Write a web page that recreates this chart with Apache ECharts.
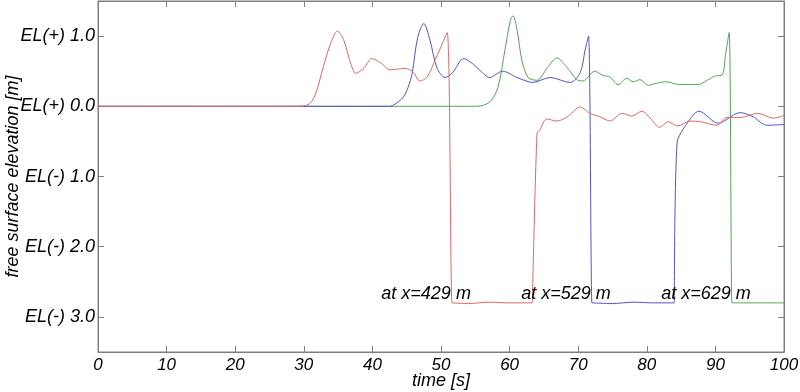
<!DOCTYPE html>
<html>
<head>
<meta charset="utf-8">
<script src="https://cdn.jsdelivr.net/npm/echarts@6/dist/echarts.min.js"></script>
<style>html,body{margin:0;padding:0;background:#fff}#c{width:800px;height:392px}</style>
</head>
<body>
<div id="c"></div>
<script>
// ---- data ----
const xTicks = [0, 10, 20, 30, 40, 50, 60, 70, 80, 90, 100];
const yTickValues = [-3, -2, -1, 0, 1];
const yTickLabels = ['EL(-) 3.0', 'EL(-) 2.0', 'EL(-) 1.0', 'EL(+) 0.0', 'EL(+) 1.0'];

// x = 429 m (red)
const t429 = [0, 29.5, 30.9, 31.8, 32.8, 34.0, 34.9, 35.8, 36.8, 37.6, 38.8, 39.9, 41.2, 42.6, 44.8, 46.0, 46.9, 48.0, 49.1, 50.0, 50.9, 51.6, 51.7, 54, 57, 60, 63.3, 63.4, 64.0, 64.4, 65.4, 66.9, 68.4, 70.3, 71.7, 73.2, 74.6, 76.4, 77.8, 79.3, 80.5, 81.9, 83.1, 84.5, 86.3, 87.8, 90.2, 91.7, 93.6, 96.2, 98.4, 100];
const v429 = [0, 0, 0.04, 0.2, 0.55, 0.92, 1.07, 0.95, 0.62, 0.47, 0.55, 0.68, 0.62, 0.52, 0.54, 0.48, 0.36, 0.42, 0.65, 0.85, 1.05, -2.8, -2.8, -2.81, -2.79, -2.8, -2.8, -2.8, -0.38, -0.34, -0.18, -0.21, -0.15, -0.01, -0.1, -0.15, -0.21, -0.1, -0.14, -0.07, -0.17, -0.3, -0.22, -0.28, -0.21, -0.22, -0.27, -0.16, -0.16, -0.1, -0.17, -0.13];

// x = 529 m (blue)
const t529 = [0, 42.5, 43.3, 44.5, 45.2, 45.8, 46.6, 47.5, 48.4, 49.4, 50.6, 51.7, 53.3, 54.7, 55.7, 57.1, 59.0, 61.1, 63.4, 65.9, 68.8, 70.3, 71.0, 71.5, 72.0, 72.1, 75, 78, 81, 84.0, 84.1, 84.4, 85.9, 87.6, 90.4, 93.6, 95.5, 97.5, 100];
const v529 = [0, 0, 0.03, 0.13, 0.27, 0.47, 0.98, 1.18, 0.94, 0.55, 0.41, 0.48, 0.68, 0.6, 0.51, 0.41, 0.5, 0.41, 0.34, 0.41, 0.34, 0.48, 0.8, 1.0, -2.8, -2.8, -2.81, -2.79, -2.8, -2.8, -2.8, -0.53, -0.24, -0.07, -0.24, -0.09, -0.15, -0.27, -0.26];

// x = 629 m (green)
const t629 = [0, 55.2, 57.1, 58.3, 59.3, 60.1, 60.5, 61.1, 61.8, 62.7, 64.0, 65.5, 66.9, 68.4, 69.8, 70.7, 72.4, 73.6, 74.6, 75.8, 77.1, 78.0, 79.0, 80.2, 81.5, 82.7, 84.8, 87.5, 88.8, 89.9, 91.0, 91.5, 92.0, 92.4, 92.5, 95, 98, 100];
const v629 = [0, 0, 0.06, 0.27, 0.79, 1.22, 1.29, 1.08, 0.65, 0.41, 0.37, 0.55, 0.69, 0.55, 0.38, 0.36, 0.5, 0.44, 0.42, 0.31, 0.4, 0.35, 0.38, 0.3, 0.33, 0.35, 0.31, 0.31, 0.37, 0.43, 0.45, 0.75, 1.05, -2.8, -2.8, -2.8, -2.8, -2.8];

const seriesNames = ['at x=429 m', 'at x=529 m', 'at x=629 m'];
const labelAnchors = [[41.3, -2.68], [61.7, -2.68], [82.1, -2.68]];

// ---- chart ----
const pair = (t, v) => t.map((x, i) => [x, v[i]]);
const font = '"Liberation Sans", Arial, sans-serif';
const axisGray = '#7f7f7f';
const yLabel = v => yTickLabels[yTickValues.indexOf(Math.round(v))] || '';

function lineSeries(name, data, color, z, anchor, axisIdx) {
  return {
    name, type: 'line', data, z,
    xAxisIndex: axisIdx, yAxisIndex: axisIdx,
    showSymbol: false, symbol: 'none',
    smooth: 0.3,
    lineStyle: { color, width: 1 },
    animation: false,
    markPoint: {
      symbol: 'circle', symbolSize: 0, animation: false,
      data: [{ coord: anchor, value: name }],
      label: {
        show: true, position: 'right', distance: 0, formatter: name,
        color: '#000', fontStyle: 'italic', fontSize: 18, fontFamily: font
      }
    }
  };
}

const mkLine = () => ({ show: true, onZero: false, lineStyle: { color: axisGray, width: 1 } });
const mkTick = (extra) => Object.assign({ show: true, inside: true, length: 6, lineStyle: { color: axisGray, width: 1 } }, extra || {});

const chart = echarts.init(document.getElementById('c'), null, { renderer: 'canvas' });
chart.setOption({
  backgroundColor: '#fff',
  animation: false,
  grid: { left: 98, right: 16, top: 1, bottom: 40, containLabel: false, outerBoundsMode: 'none',
          show: true, borderColor: axisGray, borderWidth: 1, backgroundColor: 'transparent' },
  xAxis: [
    {
      type: 'value', position: 'bottom', min: xTicks[0], max: xTicks[xTicks.length - 1], interval: 10,
      name: 'time [s]', nameLocation: 'middle', nameGap: 20, nameMoveOverlap: false,
      nameTextStyle: { color: '#000', fontStyle: 'italic', fontSize: 18, fontFamily: font },
      axisLine: mkLine(),
      axisTick: mkTick(),
      axisLabel: { color: '#000', fontStyle: 'italic', fontSize: 17, fontFamily: font, margin: 5 },
      splitLine: { show: false }
    },
    {
      type: 'value', position: 'top', min: xTicks[0], max: xTicks[xTicks.length - 1], interval: 10,
      axisLine: mkLine(),
      axisTick: mkTick(),
      axisLabel: { show: false }, splitLine: { show: false }
    }
  ],
  yAxis: [
    {
      type: 'value', position: 'left', min: -3.5, max: 1.5,
      name: 'free surface elevation [m]', nameLocation: 'middle', nameGap: 76, nameMoveOverlap: false,
      nameTextStyle: { color: '#000', fontStyle: 'italic', fontSize: 18, fontFamily: font },
      axisLine: mkLine(),
      axisTick: mkTick({ customValues: yTickValues }),
      axisLabel: { color: '#000', fontStyle: 'italic', fontSize: 18, fontFamily: font, margin: 3,
                   customValues: yTickValues, formatter: yLabel },
      splitLine: { show: false }
    },
    {
      type: 'value', position: 'right', min: -3.5, max: 1.5,
      axisLine: mkLine(),
      axisTick: mkTick({ customValues: yTickValues }),
      axisLabel: { show: false }, splitLine: { show: false }
    }
  ],
  series: [
    lineSeries(seriesNames[2], pair(t629, v629), '#55a455', 2, labelAnchors[2], 1),
    lineSeries(seriesNames[1], pair(t529, v529), '#5454c8', 3, labelAnchors[1], 0),
    lineSeries(seriesNames[0], pair(t429, v429), '#e06868', 4, labelAnchors[0], 0)
  ]
});
</script>
</body>
</html>
